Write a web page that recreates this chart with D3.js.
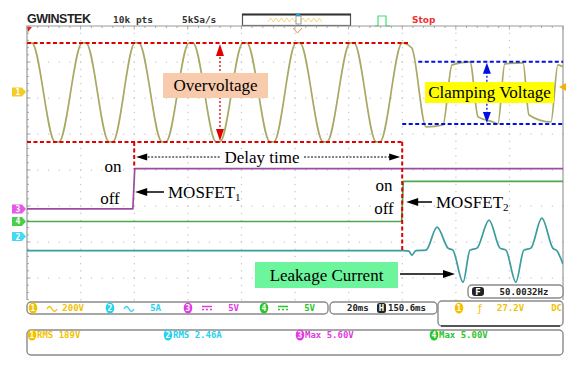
<!DOCTYPE html>
<html>
<head>
<meta charset="utf-8">
<script src="https://cdn.jsdelivr.net/npm/d3@7"></script>
<style>
  body { margin: 0; background: #fff; }
  svg { display: block; }
</style>
</head>
<body>
<script>
// time in ms (20 ms/div), values in channel units
const ch1Trace = [
  [0, 270], [0.4, 272], [1.8, 272], [10.5, -278], [11.9, -278], [20.6, 272], [22.0, 272],
  [30.6, -278], [32.0, -278], [40.3, 272], [41.7, 272], [50.4, -278], [51.8, -278],
  [60.5, 272], [61.9, 272], [70.6, -278], [72.0, -278], [80.6, 272], [82.0, 272],
  [90.7, -278], [92.1, -278], [100.4, 272], [101.8, 272], [110.5, -278], [111.9, -278],
  [120.6, 272], [122.0, 272], [130.3, -278], [131.7, -278], [140.0, 272], [140.8, 270],
  [143.6, 244], [148.9, -194], [155.2, -183], [158.6, 150], [165.3, 167], [168.3, -139],
  [173.9, -167], [175.7, -178], [178.3, 156], [185.1, 161], [187.3, -128], [195.5, -167],
  [198.1, 150], [200, 140]
]
const ch2Trace = [
  [0, -1.94], [140.7, -1.94], [142.5, -2.01], [143.6, -2.57], [145.1, -1.94], [148.9, -1.88],
  [153.0, 1.32], [157.1, -1.6], [158.9, -1.88], [162.7, -6.32], [165.3, -1.88], [167.9, -1.6],
  [172.4, 2.29], [176.5, -1.6], [178.7, -1.88], [182.4, -6.32], [185.4, -1.88], [188.0, -1.6],
  [192.1, 2.57], [196.2, -1.6], [197.8, -2.01], [200, -3.82]
]
const ch3Trace = [[0, 0], [39.5, 0], [40.2, 5.6], [200, 5.6]]
const ch4Trace = [[0, 0], [139.8, 0], [140.4, 5.56], [200, 5.56]]

const channels = ['1', '2', '3', '4']
const chColors = ['#f2c200', '#25d3ee', '#e23be2', '#2cc62c']
const traceColors = ['#a9a865', '#3a9c9e', '#9a4c9e', '#4fa84f']
const chOffsets = [2.17, -1.85, -1.08, -1.43]   // divisions from centre
const chPerDiv = [200, 5, 5, 5]
const chCoupling = ['ac', 'ac', 'dc', 'dc']
const chScaleLabels = ['200V', '5A', '5V', '5V']
const measureLabels = ['RMS 189V', 'RMS 2.46A', 'Max 5.60V', 'Max 5.00V']

const clampHigh = 167, clampLow = -178, overHigh = 272, overLow = -278
const mos1On = 40.0, mos2On = 140.0

const svg = d3.select('body').append('svg').attr('width', 576).attr('height', 370)

const x = d3.scaleLinear().domain([0, 200]).range([27, 563])
const div = d3.scaleLinear().domain([-4, 4]).range([314, 26])
const y = (i, v) => div(chOffsets[i] + v / chPerDiv[i])

const plotTop = 26, plotBottom = 300
const mono = "'DejaVu Sans Mono', monospace"
const serif = "'Liberation Serif', 'Times New Roman', serif"

// ---- header
svg.append('text').attr('x', 27).attr('y', 23).text('GWINSTEK')
  .attr('font-family', "'Liberation Sans', Arial, sans-serif").attr('font-weight', 'bold')
  .attr('font-size', 12.5).attr('fill', '#222').attr('textLength', 64)
svg.append('text').attr('x', 113).attr('y', 23).text('10k pts')
  .attr('font-family', mono).attr('font-weight', 'bold').attr('font-size', 9.5).attr('fill', '#333')
svg.append('text').attr('x', 182).attr('y', 23).text('5kSa/s')
  .attr('font-family', mono).attr('font-weight', 'bold').attr('font-size', 9.5).attr('fill', '#333')
svg.append('rect').attr('x', 242.5).attr('y', 14.5).attr('width', 108).attr('height', 11)
  .attr('fill', '#fff').attr('stroke', '#555').attr('stroke-width', 1.2)
svg.append('line').attr('x1', 242).attr('x2', 351).attr('y1', 14.5).attr('y2', 14.5).attr('stroke', '#333').attr('stroke-width', 2)
const zig = d3.range(0, 21).map(k => [268 + k * 2.7, k % 2 ? 18 : 22])
svg.append('path').attr('d', d3.line()(zig)).attr('fill', 'none').attr('stroke', '#f0d060').attr('stroke-width', 0.8)
svg.append('rect').attr('x', 296).attr('y', 16).attr('width', 5).attr('height', 8).attr('fill', '#fff').attr('stroke', '#888').attr('stroke-width', 0.8)
svg.append('rect').attr('x', 296).attr('y', 14).attr('width', 4).attr('height', 2).attr('fill', '#1aa0c8')
svg.append('path').attr('d', 'M375,26H378V16H386V26H390').attr('fill', 'none').attr('stroke', '#3ce070').attr('stroke-width', 1.2)
svg.append('text').attr('x', 412).attr('y', 23).text('Stop')
  .attr('font-family', "'DejaVu Sans', sans-serif").attr('font-weight', 'bold').attr('font-size', 9).attr('fill', '#f03030')

// ---- graticule
const grid = svg.append('g')
const rows = d3.range(-3, 4)
const cols = d3.range(20, 200, 20)
rows.forEach(r => {
  grid.selectAll(null).data(d3.range(0, 51)).enter().append('rect')
    .attr('x', k => 27 + k * 10.72 - 0.5).attr('y', div(r) - 0.5).attr('width', 1.2).attr('height', 1.2)
    .attr('fill', '#c4c4c4')
})
cols.forEach(c => {
  grid.selectAll(null).data(d3.range(0, 39)).enter().append('rect')
    .attr('x', x(c) - 0.5).attr('y', k => plotTop + k * 7.2 - 0.5).attr('width', 1.2).attr('height', 1.2)
    .attr('fill', '#c4c4c4')
})
grid.selectAll(null).data(d3.range(0, 51)).enter().append('line')
  .attr('x1', k => 27 + k * 10.72).attr('x2', k => 27 + k * 10.72)
  .attr('y1', plotTop).attr('y2', k => plotTop + (k % 5 ? 2 : 3.5)).attr('stroke', '#aaa')
grid.selectAll(null).data(d3.range(0, 39)).enter().append('line')
  .attr('y1', k => plotTop + k * 7.2).attr('y2', k => plotTop + k * 7.2)
  .attr('x1', 27).attr('x2', k => 27 + (k % 5 ? 2 : 3.5)).attr('stroke', '#aaa')
grid.append('path').attr('d', `M27,${plotBottom}V${plotTop}H563V${plotBottom}`)
  .attr('fill', 'none').attr('stroke', '#9a9a9a').attr('stroke-width', 1.2)

// trigger position marks
svg.append('path').attr('d', 'M27.5,27 L32,27 L28,32 Z').attr('fill', '#e02020')
svg.append('path').attr('d', 'M293,28 L297.5,33 L302,28').attr('fill', 'none').attr('stroke', '#f08a50').attr('stroke-width', 1)

// ---- traces
svg.append('clipPath').attr('id', 'plot').append('rect')
  .attr('x', 27).attr('y', plotTop).attr('width', 536).attr('height', plotBottom - plotTop)
const traces = svg.append('g').attr('clip-path', 'url(#plot)')
const traceData = [ch1Trace, ch2Trace, ch3Trace, ch4Trace]
const drawOrder = [2, 3, 1, 0]
drawOrder.forEach(i => {
  const line = d3.line().x(d => x(d[0])).y(d => y(i, d[1]))
    .curve(i < 2 ? d3.curveMonotoneX : d3.curveLinear)
  traces.append('path').datum(traceData[i]).attr('d', line)
    .attr('fill', 'none').attr('stroke', traceColors[i]).attr('stroke-width', 1.7)
    .attr('stroke-linejoin', 'round')
})

// channel ground markers on the left
channels.forEach((c, i) => {
  const yy = y(i, 0)
  svg.append('path').attr('d', `M12,${yy - 4.5}H22L26,${yy}L22,${yy + 4.5}H12Z`).attr('fill', chColors[i]).attr('opacity', 0.85)
  svg.append('text').attr('x', 18).attr('y', yy + 3).text(c).attr('text-anchor', 'middle')
    .attr('font-family', mono).attr('font-weight', 'bold').attr('font-size', 8).attr('fill', '#fff')
})
// trigger level on the right
svg.append('path').attr('d', `M566,${y(0, 27.2) - 4}L559,${y(0, 27.2)}L566,${y(0, 27.2) + 4}Z`).attr('fill', '#f2b400')

// ---- annotations
const red = '#e00000', blue = '#0010e0'
const ann = svg.append('g')
const dashed = (x1, y1, x2, y2, col) => ann.append('line').attr('x1', x1).attr('y1', y1).attr('x2', x2).attr('y2', y2)
  .attr('stroke', col).attr('stroke-width', 2).attr('stroke-dasharray', '4,2.5')

dashed(27, y(0, overHigh), x(142.5), y(0, overHigh), red)
dashed(27, y(0, overLow), x(mos2On), y(0, overLow), red)
dashed(x(mos1On), y(0, overLow), x(mos1On), y(2, 5.6), red)
dashed(x(mos2On), y(0, overLow), x(mos2On), y(1, -1.94), red)
dashed(x(146), y(0, clampHigh), 563, y(0, clampHigh), blue)
dashed(x(mos2On), y(0, clampLow), 563, y(0, clampLow), blue)

const arrowHead = (tx, ty, dir, col, len, half) => {
  // dir: 'up' 'down' 'left' 'right'
  let p
  if (dir === 'up') p = [[tx, ty], [tx - half, ty + len], [tx + half, ty + len]]
  if (dir === 'down') p = [[tx, ty], [tx - half, ty - len], [tx + half, ty - len]]
  if (dir === 'left') p = [[tx, ty], [tx + len, ty - half], [tx + len, ty + half]]
  if (dir === 'right') p = [[tx, ty], [tx - len, ty - half], [tx - len, ty + half]]
  ann.append('path').attr('d', d3.line()(p) + 'Z').attr('fill', col)
}

// overvoltage double arrow
const ovX = x(72)
ann.append('line').attr('x1', ovX).attr('x2', ovX).attr('y1', y(0, overHigh) + 10).attr('y2', y(0, overLow) - 10)
  .attr('stroke', red).attr('stroke-width', 1.3).attr('stroke-dasharray', '2,2')
arrowHead(ovX, y(0, overHigh) + 1, 'up', red, 12, 4)
arrowHead(ovX, y(0, overLow) - 1, 'down', red, 12, 4)
ann.append('rect').attr('x', 163).attr('y', 73).attr('width', 105).attr('height', 25).attr('fill', '#f8cbad')
ann.append('text').attr('x', 215.5).attr('y', 91).attr('text-anchor', 'middle').text('Overvoltage')
  .attr('font-family', serif).attr('font-size', 17).attr('fill', '#000')

// clamping double arrow
const clX = x(171.6)
ann.append('line').attr('x1', clX).attr('x2', clX).attr('y1', y(0, clampHigh) + 10).attr('y2', y(0, clampLow) - 10)
  .attr('stroke', blue).attr('stroke-width', 1.3).attr('stroke-dasharray', '2,2')
arrowHead(clX, y(0, clampHigh) + 1, 'up', blue, 11, 4)
arrowHead(clX, y(0, clampLow) - 1, 'down', blue, 11, 4)
ann.append('rect').attr('x', 425).attr('y', 82).attr('width', 129).attr('height', 21).attr('fill', '#ffff00')
ann.append('text').attr('x', 489.5).attr('y', 98).attr('text-anchor', 'middle').text('Clamping Voltage')
  .attr('font-family', serif).attr('font-size', 17).attr('fill', '#000')

// delay time
const dY = 157
ann.append('line').attr('x1', x(mos1On) + 10).attr('x2', 221).attr('y1', dY).attr('y2', dY)
  .attr('stroke', '#000').attr('stroke-width', 1).attr('stroke-dasharray', '2,1.5')
ann.append('line').attr('x1', 304).attr('x2', x(mos2On) - 12).attr('y1', dY).attr('y2', dY)
  .attr('stroke', '#000').attr('stroke-width', 1).attr('stroke-dasharray', '2,1.5')
arrowHead(x(mos1On) + 2, dY, 'left', '#000', 11, 3.5)
arrowHead(x(mos2On) - 2, dY, 'right', '#000', 11, 3.5)
ann.append('text').attr('x', 262).attr('y', dY + 5.5).attr('text-anchor', 'middle').text('Delay time')
  .attr('font-family', serif).attr('font-size', 17).attr('fill', '#000')

// on / off labels and MOSFET arrows
const label = (tx, ty, t) => ann.append('text').attr('x', tx).attr('y', ty).attr('text-anchor', 'middle').text(t)
  .attr('font-family', serif).attr('font-size', 17).attr('fill', '#000')
label(113, 172, 'on')
label(110, 204, 'off')
label(384, 191, 'on')
label(384, 214, 'off')

const mosfet = (tipX, ty, lineEnd, n) => {
  ann.append('line').attr('x1', tipX + 8).attr('x2', lineEnd).attr('y1', ty).attr('y2', ty).attr('stroke', '#000').attr('stroke-width', 1.5)
  arrowHead(tipX, ty, 'left', '#000', 12, 4)
  const t = ann.append('text').attr('x', lineEnd + 4).attr('y', ty + 6)
    .attr('font-family', serif).attr('font-size', 17).attr('fill', '#000')
  t.append('tspan').text('MOSFET')
  t.append('tspan').text(n).attr('font-size', 11).attr('dy', 3)
}
mosfet(x(mos1On) + 1, 192, 164, '1')
mosfet(x(mos2On) + 4, 202, 432, '2')

// leakage current
ann.append('rect').attr('x', 255).attr('y', 262).attr('width', 143).attr('height', 26).attr('fill', '#6cf59c')
ann.append('text').attr('x', 326.5).attr('y', 281).attr('text-anchor', 'middle').text('Leakage Current')
  .attr('font-family', serif).attr('font-size', 17).attr('fill', '#000')
ann.append('line').attr('x1', 400).attr('x2', 444).attr('y1', 274).attr('y2', 274).attr('stroke', '#000').attr('stroke-width', 1.5)
arrowHead(455, 274, 'right', '#000', 12, 4)

// ---- status bars
const box = (bx, by, w, h) => svg.append('rect').attr('x', bx).attr('y', by).attr('width', w).attr('height', h)
  .attr('rx', 4).attr('fill', '#fff').attr('stroke', '#8a8a8a').attr('stroke-width', 1.4)
const stext = (tx, ty, t, col, anchor) => svg.append('text').attr('x', tx).attr('y', ty).text(t)
  .attr('text-anchor', anchor || 'start').attr('font-family', mono).attr('font-weight', 'bold')
  .attr('font-size', 9).attr('fill', col)
const badge = (cx, cy, n, col) => {
  svg.append('ellipse').attr('cx', cx).attr('cy', cy).attr('rx', 4.3).attr('ry', 5.5).attr('fill', col)
  svg.append('text').attr('x', cx).attr('y', cy + 3).text(n).attr('text-anchor', 'middle')
    .attr('font-family', mono).attr('font-weight', 'bold').attr('font-size', 8).attr('fill', '#fff')
}

// frequency readout
box(468, 285, 95, 13)
svg.append('rect').attr('x', 472).attr('y', 287).attr('width', 12).attr('height', 9).attr('rx', 3).attr('fill', '#222')
stext(478, 295, 'F', '#fff', 'middle')
stext(524, 295, '50.0032Hz', '#222', 'middle')

box(27, 302, 301, 12)
const barX = [33, 110, 188, 264]
channels.forEach((c, i) => {
  const bx = barX[i]
  badge(bx, 308, c, chColors[i])
  if (chCoupling[i] === 'ac') {
    svg.append('path').attr('d', `M${bx + 14},309 q2.5,-5 5,0 t5,0`).attr('fill', 'none').attr('stroke', chColors[i]).attr('stroke-width', 1.3)
  } else {
    svg.append('path').attr('d', `M${bx + 14},306.5h10M${bx + 14},309.5h2M${bx + 18},309.5h2M${bx + 22},309.5h2`)
      .attr('stroke', chColors[i]).attr('stroke-width', 1.5)
  }
  stext(bx + 51, 311, chScaleLabels[i], chColors[i], 'end')
})

box(330, 302, 107, 12)
stext(347, 311, '20ms', '#222')
svg.append('rect').attr('x', 377).attr('y', 303).attr('width', 9).attr('height', 10).attr('rx', 2.5).attr('fill', '#222')
stext(381.5, 311, 'H', '#fff', 'middle')
stext(388, 311, '150.6ms', '#222')

box(438, 301, 125, 25)
svg.append('line').attr('x1', 441).attr('x2', 560).attr('y1', 326).attr('y2', 326).attr('stroke', '#555').attr('stroke-width', 2)
badge(459, 308, '1', chColors[0])
svg.append('text').attr('x', 480).attr('y', 312).text('ƒ').attr('font-family', "'DejaVu Sans', sans-serif")
  .attr('font-size', 11).attr('fill', chColors[0]).attr('text-anchor', 'middle')
stext(497, 311, '27.2V', chColors[0])
stext(562, 311, 'DC', chColors[0], 'end')

box(27, 330, 536, 25)
const measX = [31, 167, 299, 433]
channels.forEach((c, i) => {
  badge(measX[i] + 1, 335, c, chColors[i])
  stext(measX[i] + 6, 338, measureLabels[i], chColors[i])
})
</script>
</body>
</html>
